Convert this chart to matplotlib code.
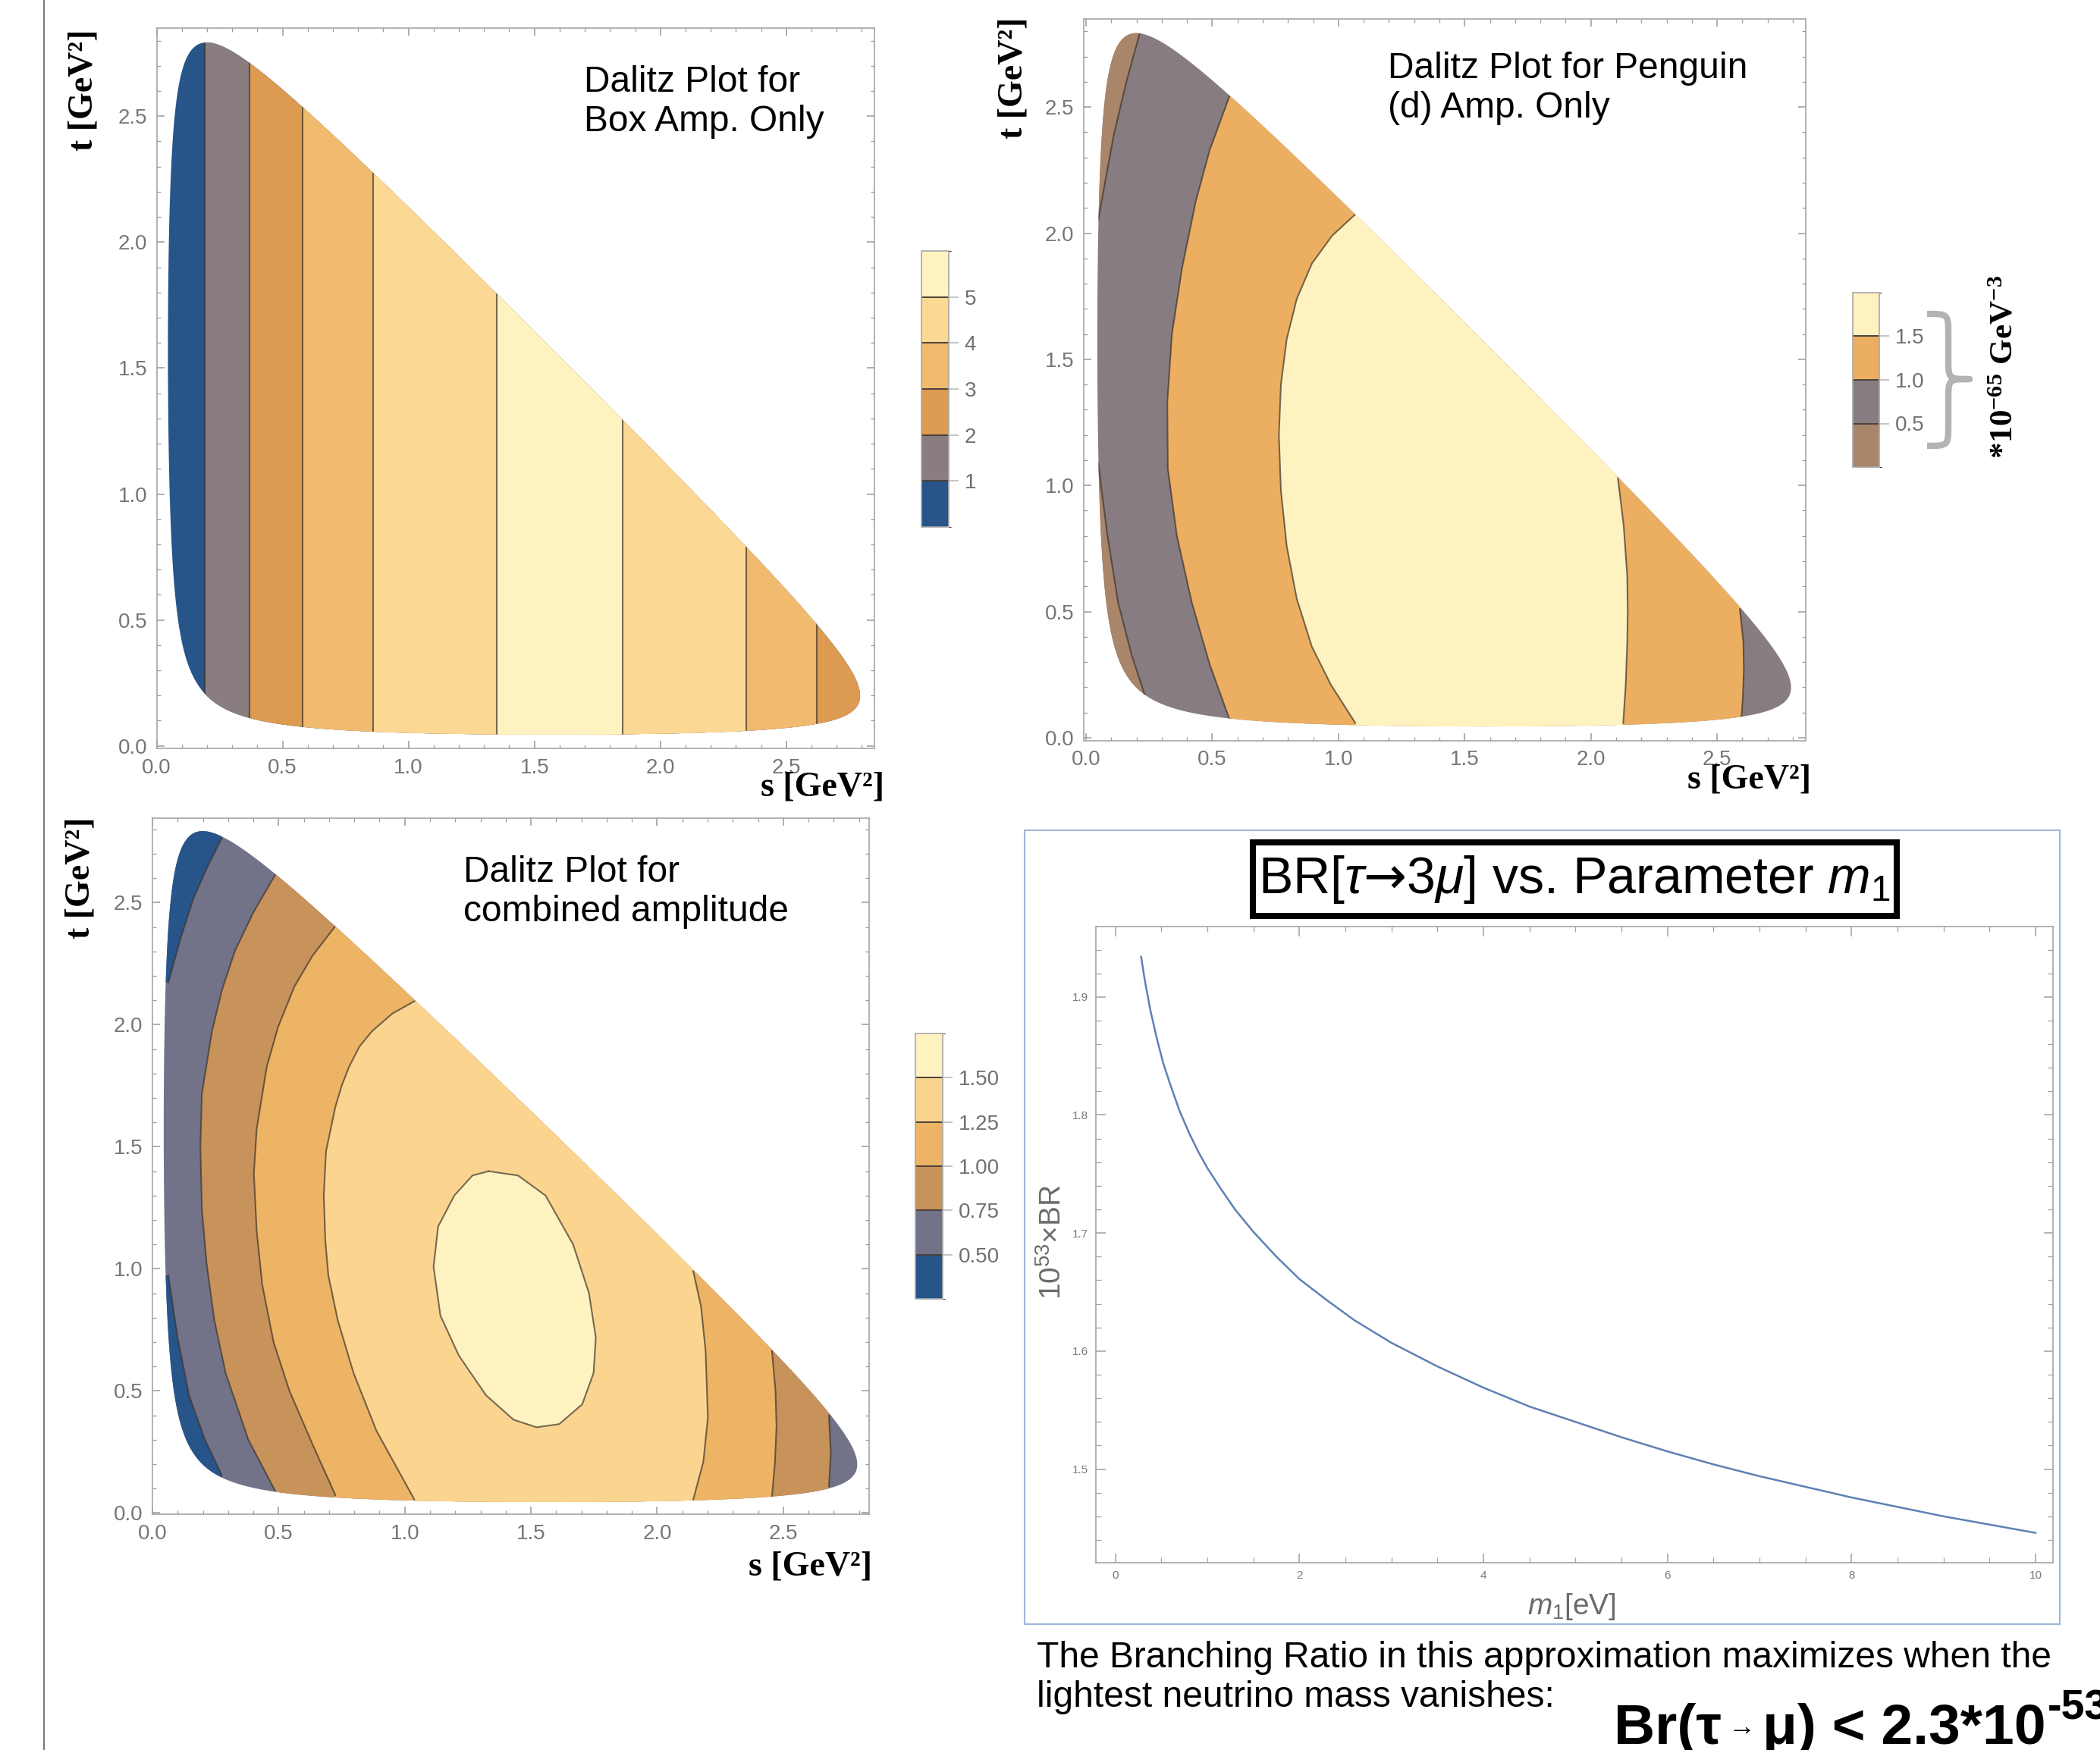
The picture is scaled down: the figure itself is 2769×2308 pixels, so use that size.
import numpy as np
import matplotlib
matplotlib.use("Agg")
import matplotlib.pyplot as plt
from matplotlib.patches import Polygon, Rectangle, PathPatch
from matplotlib.path import Path
from matplotlib.lines import Line2D
from matplotlib.colors import ListedColormap, BoundaryNorm
from matplotlib.cm import ScalarMappable
from matplotlib.ticker import MultipleLocator

W, H = 2769, 2308

plt.rcParams['font.family'] = ['Liberation Sans', 'DejaVu Sans']
plt.rcParams['mathtext.fontset'] = 'custom'
plt.rcParams['mathtext.rm'] = 'Liberation Sans'
plt.rcParams['mathtext.it'] = 'Liberation Sans:italic'
plt.rcParams['mathtext.bf'] = 'Liberation Serif:bold'
plt.rcParams['mathtext.cal'] = 'DejaVu Sans'   # only used for the title arrow

# ---------------- data ----------------
M_TAU = 1.77686   # GeV
M_MU = 0.105658   # GeV

# box amplitude only depends on s: where it crosses each level (rising / falling)
box_levels = [1, 2, 3, 4, 5]
box_rise_s = [0.19, 0.37, 0.58, 0.86, 1.35]
box_fall_s = [None, None, 2.62, 2.34, 1.85]
box_colors = ['#27558a', '#897d80', '#dc9b51', '#f0bb6f', '#fcd895', '#fff2c1']

# penguin amplitude contours, (s, t), top -> bottom
pen_levels = [0.5, 1.0, 1.5]
pen_c05_top = [(0.212, 2.79), (0.16, 2.60), (0.11, 2.39), (0.075, 2.20), (0.048, 2.05)]
pen_c05_bot = [(0.048, 1.09), (0.085, 0.80), (0.127, 0.536), (0.18, 0.33), (0.234, 0.165)]
pen_c10_left = [(0.568, 2.542), (0.49, 2.33), (0.435, 2.128), (0.38, 1.86), (0.340, 1.598),
                (0.322, 1.33), (0.324, 1.067), (0.36, 0.80), (0.419, 0.536), (0.49, 0.29),
                (0.568, 0.074)]
pen_c10_right = [(2.59, 0.51), (2.604, 0.38), (2.606, 0.27), (2.602, 0.16), (2.595, 0.058)]
pen_c15_left = [(1.067, 2.075), (0.975, 1.99), (0.895, 1.88), (0.835, 1.74), (0.795, 1.58),
                (0.772, 1.40), (0.764, 1.20), (0.772, 0.98), (0.795, 0.76), (0.835, 0.55),
                (0.895, 0.36), (0.970, 0.21), (1.067, 0.058)]
pen_c15_right = [(2.107, 1.03), (2.13, 0.84), (2.144, 0.642), (2.146, 0.50), (2.144, 0.377),
                 (2.138, 0.21), (2.128, 0.058)]
pen_colors = ['#a9856a', '#877c81', '#ecaf62', '#fff2c1']

# combined amplitude contours
comb_levels = [0.5, 0.75, 1.0, 1.25, 1.5]
comb_c05_top = [(0.275, 2.764), (0.217, 2.645), (0.163, 2.518), (0.112, 2.355), (0.063, 2.173)]
comb_c05_bot = [(0.063, 0.973), (0.10, 0.718), (0.145, 0.482), (0.208, 0.30), (0.275, 0.155)]
comb_c075_left = [(0.486, 2.613), (0.40, 2.46), (0.326, 2.30), (0.275, 2.14), (0.236, 1.973),
                  (0.196, 1.718), (0.190, 1.5), (0.196, 1.245), (0.214, 1.027), (0.245, 0.791),
                  (0.290, 0.573), (0.380, 0.30), (0.486, 0.091)]
comb_c075_right = [(2.681, 0.40), (2.688, 0.245), (2.681, 0.109)]
comb_c10_left = [(0.725, 2.404), (0.634, 2.282), (0.562, 2.155), (0.498, 1.991), (0.453, 1.827),
                 (0.413, 1.573), (0.402, 1.391), (0.413, 1.155), (0.435, 0.936), (0.480, 0.70),
                 (0.543, 0.50), (0.634, 0.282), (0.725, 0.073)]
comb_c10_right = [(2.455, 0.664), (2.469, 0.50), (2.473, 0.355), (2.467, 0.209), (2.455, 0.067)]
comb_c125_left = [(1.038, 2.096), (0.950, 2.045), (0.870, 1.973), (0.820, 1.91), (0.779, 1.827),
                  (0.750, 1.75), (0.725, 1.664), (0.688, 1.482), (0.679, 1.30), (0.685, 1.118),
                  (0.697, 0.973), (0.734, 0.791), (0.797, 0.573), (0.888, 0.336), (1.038, 0.055)]
comb_c125_right = [(2.143, 0.991), (2.174, 0.845), (2.192, 0.664), (2.201, 0.391), (2.183, 0.209),
                   (2.143, 0.055)]
comb_c15_loop = [(1.332, 1.40), (1.449, 1.382), (1.558, 1.30), (1.667, 1.10), (1.730, 0.90),
                 (1.757, 0.718), (1.748, 0.573), (1.703, 0.445), (1.612, 0.364), (1.522, 0.351),
                 (1.431, 0.382), (1.322, 0.482), (1.214, 0.645), (1.141, 0.809), (1.114, 1.009),
                 (1.132, 1.173), (1.196, 1.30), (1.268, 1.382)]
comb_colors = ['#27558a', '#727389', '#c8925b', '#edb465', '#fbd590', '#fff2c1']

# BR(tau -> 3 mu) vs lightest neutrino mass
m1_ev = [0.28, 0.32, 0.38, 0.45, 0.52, 0.6, 0.7, 0.8, 0.9, 1.0, 1.15, 1.3, 1.5, 1.75,
         2.0, 2.3, 2.6, 3.0, 3.5, 4.0, 4.5, 5.0, 5.5, 6.0, 6.5, 7.0, 7.5, 8.0, 8.5,
         9.0, 9.5, 10.0]
br_1e53 = [1.934, 1.914, 1.889, 1.865, 1.844, 1.825, 1.803, 1.785, 1.769, 1.755, 1.737,
           1.720, 1.701, 1.680, 1.661, 1.643, 1.626, 1.607, 1.587, 1.569, 1.553, 1.540,
           1.527, 1.515, 1.504, 1.494, 1.485, 1.476, 1.468, 1.460, 1.453, 1.446]

LINE = '#3d342c'
TICK = '#9a9a9a'
LABEL = '#767676'
BIG = 5.0


def rect(x0, y0, x1, y1):
    # pixel box (top-left origin) -> figure fraction
    return [x0 / W, 1 - y1 / H, (x1 - x0) / W, (y1 - y0) / H]


def dalitz_boundary():
    th = np.linspace(0, np.pi, 800)
    smin, smax = 4 * M_MU ** 2, (M_TAU - M_MU) ** 2
    s = smin + (smax - smin) * (1 - np.cos(th)) / 2
    e2 = np.sqrt(s) / 2
    e3 = (M_TAU ** 2 - s - M_MU ** 2) / (2 * np.sqrt(s))
    p2 = np.sqrt(np.clip(e2 ** 2 - M_MU ** 2, 0, None))
    p3 = np.sqrt(np.clip(e3 ** 2 - M_MU ** 2, 0, None))
    t_hi = (e2 + e3) ** 2 - (p2 - p3) ** 2
    t_lo = (e2 + e3) ** 2 - (p2 + p3) ** 2
    return np.concatenate([s, s[::-1]]), np.concatenate([t_hi, t_lo[::-1]])


def left_of(pts, opens_up):
    s0, t0 = pts[0]
    s1, t1 = pts[-1]
    if opens_up:
        return list(pts) + [(-1, t1), (-1, BIG), (s0, BIG)]
    return list(pts) + [(s1, -1), (-1, -1), (-1, t0)]


def between(left, right=None):
    verts = list(left) + [(left[-1][0], -1)]
    if right is None:
        verts += [(BIG, -1), (BIG, BIG)]
    else:
        verts += [(right[-1][0], -1)] + list(right[::-1]) + [(right[0][0] + 1, right[0][1] + 1)]
    verts += [(left[0][0] + 1, left[0][1] + 1)]
    return verts


def dalitz_axes(r, xlim, ylim):
    ax = fig.add_axes(r)
    ax.set_xlim(*xlim)
    ax.set_ylim(*ylim)
    ax.xaxis.set_major_locator(MultipleLocator(0.5))
    ax.xaxis.set_minor_locator(MultipleLocator(0.1))
    ax.yaxis.set_major_locator(MultipleLocator(0.5))
    ax.yaxis.set_minor_locator(MultipleLocator(0.1))
    ax.tick_params(which='both', direction='in', top=True, right=True, color=TICK,
                   labelcolor=LABEL, labelsize=20, pad=9)
    ax.tick_params(which='major', length=7, width=1.1)
    ax.tick_params(which='minor', length=3.5, width=0.9)
    for sp in ax.spines.values():
        sp.set_color('#a5a5a5')
        sp.set_linewidth(1.2)
    sb, tb = dalitz_boundary()
    clip = Polygon(np.column_stack([sb, tb]), closed=True, facecolor='none',
                   edgecolor='none', transform=ax.transData)
    ax.add_patch(clip)
    return ax, clip, (sb, tb)


def fill_poly(ax, verts, color, clip):
    p = Polygon(verts, closed=True, facecolor=color, edgecolor='none', zorder=2)
    ax.add_patch(p)
    p.set_clip_path(clip)


def contour_line(ax, pts, clip, closed=False):
    s = [p[0] for p in pts]
    t = [p[1] for p in pts]
    if closed:
        s, t = s + s[:1], t + t[:1]
    ln, = ax.plot(s, t, color=LINE, lw=1.5, alpha=0.7, zorder=3, solid_joinstyle='round')
    ln.set_clip_path(clip)


def colorbar(r, colors, bounds, ticks, labels):
    cax = fig.add_axes(r)
    cmap = ListedColormap(colors)
    norm = BoundaryNorm(bounds, cmap.N)
    cb = fig.colorbar(ScalarMappable(norm=norm, cmap=cmap), cax=cax, ticks=ticks,
                      drawedges=True)
    cb.set_ticklabels(labels)
    cb.outline.set_edgecolor('#a8a8a8')
    cb.outline.set_linewidth(1.2)
    cb.dividers.set_color('#4a4038')
    cb.dividers.set_linewidth(1.4)
    cax.tick_params(direction='out', length=9, width=1.1, color='#b5b5b5',
                    labelcolor='#707070', labelsize=20, pad=6)


def axis_labels(tx, ty, sx, sy):
    kw = dict(fontsize=33, fontweight='bold', family='Liberation Serif')
    fig.text(tx / W, 1 - ty / H, 't [GeV²]', rotation=90, ha='center', va='center', **kw)
    fig.text(sx / W, 1 - sy / H, 's [GeV²]', ha='right', va='center', **kw)


def note(x, y_baselines, lines):
    for y, txt in zip(y_baselines, lines):
        fig.text(x / W, 1 - y / H, txt, fontsize=34.5, va='baseline')


fig = plt.figure(figsize=(W / 100, H / 100), dpi=100)
fig.add_artist(Line2D([58 / W, 58 / W], [0, 1], color='#7a7a7a', lw=1.5))

# ---------- Dalitz: box amplitude ----------
ax, clip, (sb, tb) = dalitz_axes(rect(206.6, 37, 1153, 987), (0, 2.85), (-0.01, 2.85))
ax.fill(sb, tb, color=box_colors[0], lw=0, zorder=1)
for i, (lo, hi) in enumerate(zip(box_rise_s, box_fall_s)):
    sp = ax.axvspan(lo, 3.5 if hi is None else hi, color=box_colors[i + 1], lw=0, zorder=2)
    sp.set_clip_path(clip)
for x in box_rise_s + [v for v in box_fall_s if v is not None]:
    ln = ax.axvline(x, color=LINE, lw=1.5, alpha=0.7, zorder=3)
    ln.set_clip_path(clip)
ax.set_xlim(0, 2.85)
axis_labels(110, 119, 1166, 1038)
note(770, [121, 173], ['Dalitz Plot for', 'Box Amp. Only'])
colorbar(rect(1215, 331, 1251, 695), box_colors, [0, 1, 2, 3, 4, 5, 6], box_levels,
         [str(v) for v in box_levels])

# ---------- Dalitz: penguin amplitude ----------
ax, clip, (sb, tb) = dalitz_axes(rect(1428.7, 24.7, 2380.6, 976.6), (-0.01, 2.85), (-0.011, 2.85))
ax.fill(sb, tb, color=pen_colors[1], lw=0, zorder=1)
fill_poly(ax, left_of(pen_c05_top, True), pen_colors[0], clip)
fill_poly(ax, left_of(pen_c05_bot, False), pen_colors[0], clip)
fill_poly(ax, between(pen_c10_left, pen_c10_right), pen_colors[2], clip)
fill_poly(ax, between(pen_c15_left, pen_c15_right), pen_colors[3], clip)
for c in [pen_c05_top, pen_c05_bot, pen_c10_left, pen_c10_right, pen_c15_left, pen_c15_right]:
    contour_line(ax, c, clip)
axis_labels(1337, 103, 2388, 1028)
note(1830, [103, 155], ['Dalitz Plot for Penguin', '(d) Amp. Only'])
colorbar(rect(2443, 386, 2478, 616), pen_colors, [0, 0.5, 1.0, 1.5, 2.0], pen_levels,
         ['%.1f' % v for v in pen_levels])

# brace and unit label next to the penguin colorbar
bx0, bxm, bx1 = 2541, 2569, 2597
by0, bym, by1 = 414, 500, 588
pts = [(bx0, by0), (bxm, by0), (bxm, by0), (bxm, by0 + 28),
       (bxm, bym - 28),
       (bxm, bym), (bxm, bym), (bx1, bym),
       (bxm, bym), (bxm, bym), (bxm, bym + 28),
       (bxm, by1 - 28),
       (bxm, by1), (bxm, by1), (bx0, by1)]
codes = [Path.MOVETO, Path.CURVE4, Path.CURVE4, Path.CURVE4, Path.LINETO,
         Path.CURVE4, Path.CURVE4, Path.CURVE4, Path.CURVE4, Path.CURVE4, Path.CURVE4,
         Path.LINETO, Path.CURVE4, Path.CURVE4, Path.CURVE4]
brace = PathPatch(Path([(x / W, 1 - y / H) for x, y in pts], codes), transform=fig.transFigure,
                  facecolor='none', edgecolor='#b3b3b3', lw=6, capstyle='butt', joinstyle='round')
fig.add_artist(brace)
fig.text(2643 / W, 1 - 484 / H, r'$\mathbf{*10^{-65}\ GeV^{-3}}$', rotation=90,
         ha='center', va='center', fontsize=31)

# ---------- Dalitz: combined amplitude ----------
ax, clip, (sb, tb) = dalitz_axes(rect(201, 1079, 1146, 1997), (0, 2.84), (-0.005, 2.846))
ax.fill(sb, tb, color=comb_colors[1], lw=0, zorder=1)
fill_poly(ax, left_of(comb_c05_top, True), comb_colors[0], clip)
fill_poly(ax, left_of(comb_c05_bot, False), comb_colors[0], clip)
fill_poly(ax, between(comb_c075_left, comb_c075_right), comb_colors[2], clip)
fill_poly(ax, between(comb_c10_left, comb_c10_right), comb_colors[3], clip)
fill_poly(ax, between(comb_c125_left, comb_c125_right), comb_colors[4], clip)
fill_poly(ax, comb_c15_loop, comb_colors[5], clip)
for c in [comb_c05_top, comb_c05_bot, comb_c075_left, comb_c075_right, comb_c10_left,
          comb_c10_right, comb_c125_left, comb_c125_right]:
    contour_line(ax, c, clip)
contour_line(ax, comb_c15_loop, clip, closed=True)
axis_labels(106, 1158, 1150, 2066)
note(611, [1163, 1215], ['Dalitz Plot for', 'combined amplitude'])
colorbar(rect(1207, 1363, 1243, 1713), comb_colors, [0.25, 0.5, 0.75, 1.0, 1.25, 1.5, 1.75],
         comb_levels, ['%.2f' % v for v in comb_levels])

# ---------- BR vs m1 ----------
fig.add_artist(Rectangle((1351 / W, 1 - 2142 / H), (2716 - 1351) / W, (2142 - 1095) / H,
                         transform=fig.transFigure, facecolor='none', edgecolor='#9db5d8', lw=1.5))
ax = fig.add_axes(rect(1444.6, 1222, 2707, 2061))
ax.plot(m1_ev, br_1e53, color='#5e81b5', lw=1.8)
ax.set_xlim(-0.215, 10.19)
ax.set_ylim(1.4207, 1.9596)
ax.xaxis.set_major_locator(MultipleLocator(2))
ax.xaxis.set_minor_locator(MultipleLocator(0.5))
ax.yaxis.set_major_locator(MultipleLocator(0.1))
ax.yaxis.set_minor_locator(MultipleLocator(0.02))
ax.tick_params(which='both', direction='in', top=True, right=True, color='#a0a0a0',
               labelcolor='#7a7a7a', labelsize=11, pad=7)
ax.tick_params(which='major', length=9, width=1.1)
ax.tick_params(which='minor', length=5, width=0.9)
for sp in ax.spines.values():
    sp.set_color('#a5a5a5')
    sp.set_linewidth(1.2)
fig.text(1388 / W, 1 - 1638 / H, r'$10^{53}$×BR', rotation=90, ha='center', va='center',
         fontsize=28, color='#6b6b6b')
fig.text(2072 / W, 1 - 2119 / H, r'$m_1$[eV]', ha='center', va='center', fontsize=28,
         color='#6b6b6b')

# title box
fig.add_artist(Rectangle((1652 / W, 1 - 1208 / H), (2501 - 1652) / W, (1208 - 1111) / H,
                         transform=fig.transFigure, facecolor='white', edgecolor='black', lw=5.8))
fig.text(2076 / W, 1 - 1160 / H, r'BR[$\tau\mathcal{→}$3$\mu$] vs. Parameter $m_1$',
         ha='center', va='center', fontsize=49)

# ---------- bottom text ----------
note(1367, [2199, 2251], ['The Branching Ratio in this approximation maximizes when the',
                          'lightest neutrino mass vanishes:'])

renderer = fig.canvas.get_renderer()
x = 2128
for txt, size, weight, dy, gap in [('Br(τ', 54, 'bold', 0, 0), ('→', 26, 'normal', 11, 9),
                                   ('μ) < 2.3*10', 54, 'bold', 0, 9), ('-53', 40, 'bold', 33, 2)]:
    t = fig.text((x + gap) / W, (H - 2300 + dy) / H, txt, fontsize=size, fontweight=weight,
                 va='baseline')
    x = t.get_window_extent(renderer=renderer).x1

fig.savefig('out.png', dpi=100)
